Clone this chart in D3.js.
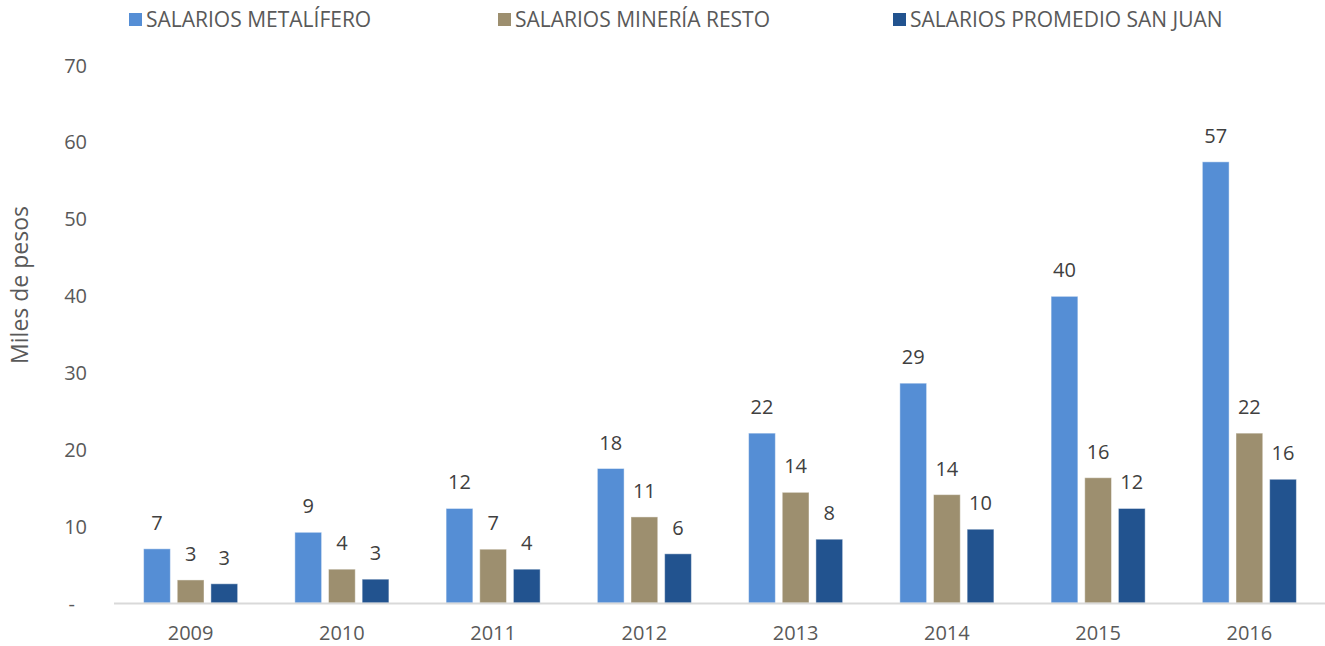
<!DOCTYPE html>
<meta charset="utf-8">
<head>
	<script src="https://d3js.org/d3.v7.min.js"></script>
	<style>
		body {
			margin: 0;
			background: #fff;
			font-family: "Open Sans", sans-serif;
		}
		.axis path,
		.axis line {
			fill: none;
			stroke: none;
		}
		.axis text {
			fill: #595959;
			font-size: 20px;
			font-family: "Open Sans", sans-serif;
		}
	</style>
</head>

<body>
	<div id="chart"></div>
</body>

<script type="text/javascript">
	var years = ["2009", "2010", "2011", "2012", "2013", "2014", "2015", "2016"];
	var series = ["SALARIOS METALÍFERO", "SALARIOS MINERÍA RESTO", "SALARIOS PROMEDIO SAN JUAN"];
	var metalifero = [7.05, 9.2, 12.3, 17.5, 22.1, 28.6, 39.9, 57.4];
	var mineriaResto = [3.0, 4.4, 7.0, 11.2, 14.4, 14.1, 16.3, 22.1];
	var promedioSJ = [2.5, 3.1, 4.4, 6.4, 8.3, 9.6, 12.3, 16.1];
	var yTicks = [0, 10, 20, 30, 40, 50, 60, 70];
	var colors = ["#558ed5", "#9d8f6f", "#22538f"];

	var values = [metalifero, mineriaResto, promedioSJ];

	var W = 1325, H = 646;
	var margin = {top: 65, right: 0, bottom: 43, left: 115},
		width = W - margin.left - margin.right,
		height = H - margin.top - margin.bottom;

	var svg = d3.select("#chart").append("svg")
		.attr("width", W)
		.attr("height", H);

	var g = svg.append("g")
		.attr("transform", "translate(" + margin.left + "," + margin.top + ")");

	var x0 = d3.scaleBand()
		.domain(years)
		.range([0, width])
		.padding(0);

	var x1 = d3.scaleBand()
		.domain(d3.range(series.length))
		.range([0, x0.bandwidth()])
		.paddingInner(0.205)
		.paddingOuter(0.85);

	var y = d3.scaleLinear()
		.domain([0, 70])
		.range([height, 0]);

	// y axis
	var yaxis_g = g.append("g")
		.attr("class", "y axis")
		.call(d3.axisLeft(y)
			.tickValues(yTicks)
			.tickSize(0)
			.tickPadding(28)
			.tickFormat(function(d) { return d === 0 ? "-" : d; }));

	yaxis_g.selectAll("text")
		.attr("dy", "0.35em")
		.attr("dx", function(d) { return d === 0 ? -12 : 0; });

	// x axis
	var xaxis_g = g.append("g")
		.attr("class", "x axis")
		.attr("transform", "translate(0," + height + ")")
		.call(d3.axisBottom(x0).tickSize(0).tickPadding(23));

	// bars
	var group = g.append("g")
		.selectAll("g")
		.data(years)
		.enter().append("g")
		.attr("transform", function(d) { return "translate(" + x0(d) + ",0)"; });

	group.selectAll("rect")
		.data(function(d, i) {
			return values.map(function(v, s) { return {s: s, value: v[i]}; });
		})
		.enter().append("rect")
		.attr("x", function(d) { return x1(d.s); })
		.attr("y", function(d) { return y(d.value); })
		.attr("width", x1.bandwidth())
		.attr("height", function(d) { return height - y(d.value); })
		.style("fill", function(d) { return colors[d.s]; })
		.style("stroke", "#ffffff")
		.style("stroke-opacity", 0.45)
		.style("stroke-width", 1);

	group.selectAll("text")
		.data(function(d, i) {
			return values.map(function(v, s) { return {s: s, value: v[i]}; });
		})
		.enter().append("text")
		.attr("x", function(d) { return x1(d.s) + x1.bandwidth() / 2; })
		.attr("y", function(d) { return y(d.value) - 19; })
		.style("text-anchor", "middle")
		.style("font-size", "20px")
		.style("fill", "#404040")
		.text(function(d) { return Math.round(d.value); });

	// baseline
	g.append("line")
		.attr("x1", -1)
		.attr("x2", width)
		.attr("y1", height + 0.5)
		.attr("y2", height + 0.5)
		.style("stroke", "#d9d9d9")
		.style("stroke-width", 2);

	// y title
	svg.append("text")
		.attr("transform", "translate(28,285)rotate(-90)")
		.style("text-anchor", "middle")
		.style("font-size", "23px")
		.style("fill", "#595959")
		.text("Miles de pesos");

	// legend
	var legendX = [129, 498, 893];
	var legend = svg.append("g")
		.selectAll("g")
		.data(series)
		.enter().append("g")
		.attr("transform", function(d, i) { return "translate(" + legendX[i] + ",13)"; });

	legend.append("rect")
		.attr("width", 13)
		.attr("height", 13)
		.style("fill", function(d, i) { return colors[i]; });

	legend.append("text")
		.attr("x", 17)
		.attr("y", 7)
		.attr("dy", "0.35em")
		.style("font-size", "21px")
		.style("fill", "#595959")
		.text(function(d) { return d; });
</script>
